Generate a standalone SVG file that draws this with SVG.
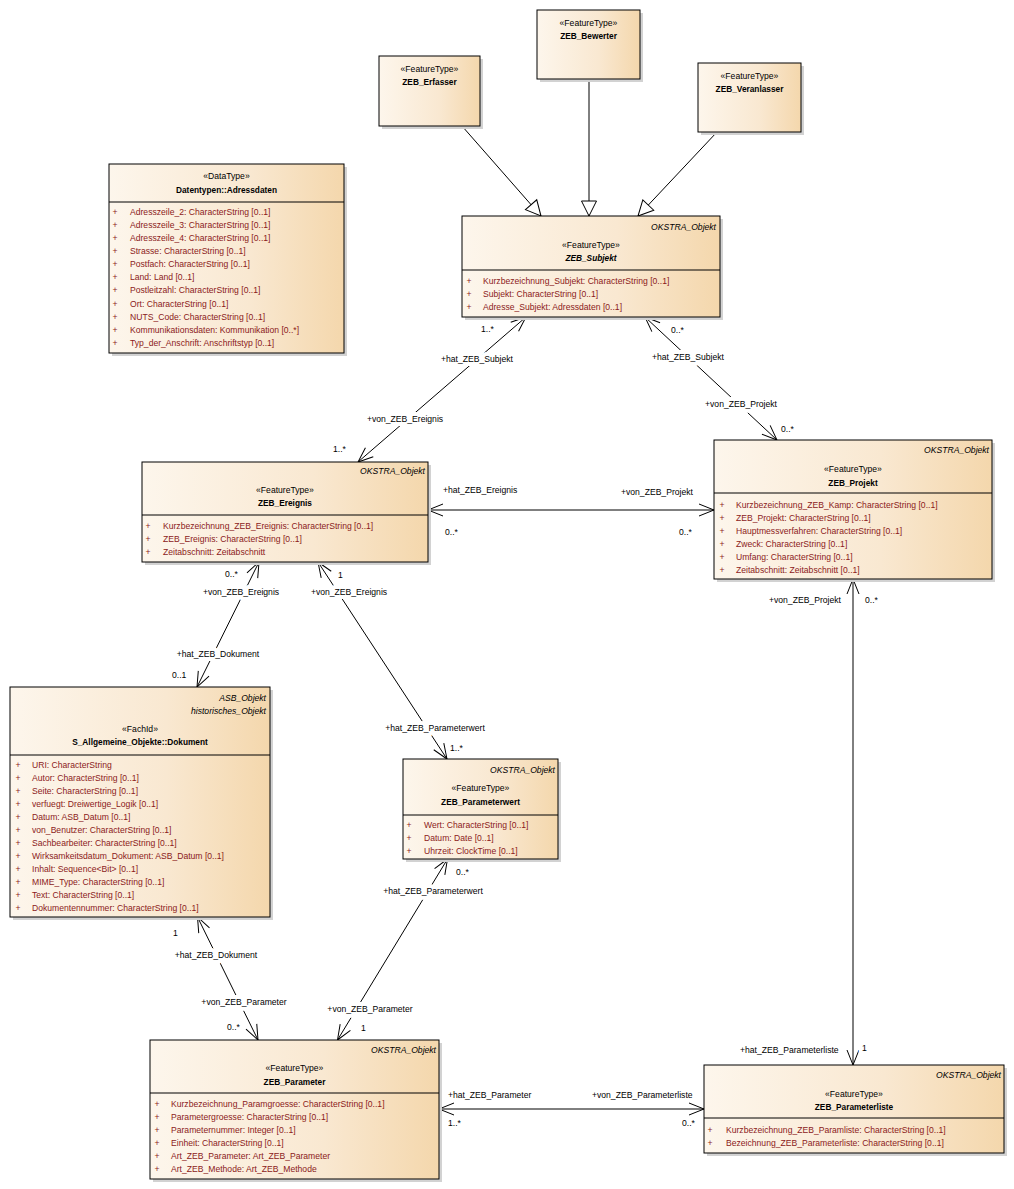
<svg xmlns="http://www.w3.org/2000/svg" width="1014" height="1189" viewBox="0 0 1014 1189">
<defs>
<linearGradient id="fill" x1="0" y1="0" x2="1" y2="0">
<stop offset="0" stop-color="#fdf6ec"/>
<stop offset="0.6" stop-color="#f9e8d1"/>
<stop offset="1" stop-color="#f4d7ac"/>
</linearGradient>
<marker id="open" viewBox="-17 -8 19 16" refX="0" refY="0" markerWidth="19" markerHeight="16" markerUnits="userSpaceOnUse" orient="auto-start-reverse">
<path d="M-15,-6 L0,0 L-15,6" fill="none" stroke="#000" stroke-width="1"/>
</marker>
<marker id="gen" viewBox="-17 -9 19 18" refX="0" refY="0" markerWidth="19" markerHeight="18" markerUnits="userSpaceOnUse" orient="auto">
<path d="M0,0 L-15,-7.5 L-15,7.5 Z" fill="#fff" stroke="#000" stroke-width="1"/>
</marker>
</defs>
<style>
.shadow{fill:#d2d2d2}
.box{fill:url(#fill);stroke:#000;stroke-width:1}
.sep{stroke:#000;stroke-width:1}
.t{font-family:"Liberation Sans",Arial,sans-serif;font-size:8.6px;fill:#000}
.a{fill:#8b1a1a}
.b{font-weight:bold;font-size:8.3px}
.i{font-style:italic}
.m{text-anchor:middle}
.e{text-anchor:end}
.con{stroke:#000;stroke-width:1;fill:none}
.assoc{marker-start:url(#open);marker-end:url(#open)}
.g{marker-end:url(#gen)}
.lbl{paint-order:stroke;stroke:#fff;stroke-width:8px;stroke-linejoin:round}
</style>
<rect x="0" y="0" width="1014" height="1189" fill="#fff"/>

<g id="connectors">
<line class="con g" x1="462" y1="126" x2="541" y2="216"/>
<line class="con g" x1="589" y1="79" x2="589" y2="216"/>
<line class="con g" x1="717" y1="132" x2="638" y2="216"/>
<line class="con assoc" x1="526" y1="317" x2="358" y2="462"/>
<line class="con assoc" x1="645" y1="317" x2="777" y2="440"/>
<line class="con assoc" x1="428" y1="510" x2="714" y2="510"/>
<line class="con assoc" x1="259" y1="562" x2="197" y2="687"/>
<line class="con assoc" x1="318" y1="562" x2="447" y2="759"/>
<line class="con assoc" x1="197.5" y1="917" x2="258" y2="1040"/>
<line class="con assoc" x1="447.5" y1="859" x2="337.5" y2="1040"/>
<line class="con assoc" x1="439" y1="1109" x2="704" y2="1109"/>
<line class="con assoc" x1="853" y1="579" x2="853" y2="1065"/>
<g class="t lbl">
<text x="481" y="332">1..*</text>
<text class="m" x="477" y="362">+hat_ZEB_Subjekt</text>
<text class="m" x="405" y="422">+von_ZEB_Ereignis</text>
<text x="333" y="452">1..*</text>
<text x="671" y="333">0..*</text>
<text class="m" x="688" y="360">+hat_ZEB_Subjekt</text>
<text class="m" x="741" y="407">+von_ZEB_Projekt</text>
<text x="781" y="432">0..*</text>
<text x="443" y="493">+hat_ZEB_Ereignis</text>
<text x="621" y="495">+von_ZEB_Projekt</text>
<text x="445" y="535">0..*</text>
<text x="679" y="535">0..*</text>
<text x="225" y="577">0..*</text>
<text class="m" x="241" y="595">+von_ZEB_Ereignis</text>
<text class="m" x="218" y="657">+hat_ZEB_Dokument</text>
<text x="172" y="678">0..1</text>
<text x="338" y="578">1</text>
<text class="m" x="349" y="595">+von_ZEB_Ereignis</text>
<text class="m" x="435" y="731">+hat_ZEB_Parameterwert</text>
<text x="450" y="751">1..*</text>
<text x="173" y="936">1</text>
<text class="m" x="216" y="958">+hat_ZEB_Dokument</text>
<text class="m" x="244" y="1005">+von_ZEB_Parameter</text>
<text x="227" y="1030">0..*</text>
<text x="456" y="875">0..*</text>
<text class="m" x="433" y="894">+hat_ZEB_Parameterwert</text>
<text class="m" x="370" y="1012">+von_ZEB_Parameter</text>
<text x="361" y="1031">1</text>
<text x="448" y="1098">+hat_ZEB_Parameter</text>
<text x="592" y="1098">+von_ZEB_Parameterliste</text>
<text x="448" y="1126">1..*</text>
<text x="682" y="1126">0..*</text>
<text x="769" y="603">+von_ZEB_Projekt</text>
<text x="865" y="603">0..*</text>
<text x="740" y="1053">+hat_ZEB_Parameterliste</text>
<text x="862" y="1051">1</text>
</g>
</g>

<g id="zeb_erfasser">
<rect class="shadow" x="382" y="59" width="101" height="70"/>
<rect class="box" x="379" y="56" width="101" height="70"/>
<text class="t m" x="429.5" y="72">«FeatureType»</text>
<text class="t b m" x="429.5" y="85">ZEB_Erfasser</text>
</g>

<g id="zeb_bewerter">
<rect class="shadow" x="540" y="13" width="103" height="69"/>
<rect class="box" x="537" y="10" width="103" height="69"/>
<text class="t m" x="588.5" y="26">«FeatureType»</text>
<text class="t b m" x="588.5" y="39">ZEB_Bewerter</text>
</g>

<g id="zeb_veranlasser">
<rect class="shadow" x="701" y="66" width="103" height="69"/>
<rect class="box" x="698" y="63" width="103" height="69"/>
<text class="t m" x="749.5" y="79">«FeatureType»</text>
<text class="t b m" x="749.5" y="92">ZEB_Veranlasser</text>
</g>

<g id="adressdaten">
<rect class="shadow" x="112" y="167" width="235" height="189"/>
<rect class="box" x="109" y="164" width="235" height="189"/>
<line class="sep" x1="109" y1="202" x2="344" y2="202"/>
<text class="t m" x="226.5" y="179">«DataType»</text>
<text class="t b m" x="226.5" y="193">Datentypen::Adressdaten</text>
<g class="t a">
<text class="m" x="115" y="215">+</text><text x="130" y="215">Adresszeile_2: CharacterString [0..1]</text>
<text class="m" x="115" y="228">+</text><text x="130" y="228">Adresszeile_3: CharacterString [0..1]</text>
<text class="m" x="115" y="241">+</text><text x="130" y="241">Adresszeile_4: CharacterString [0..1]</text>
<text class="m" x="115" y="254">+</text><text x="130" y="254">Strasse: CharacterString [0..1]</text>
<text class="m" x="115" y="267">+</text><text x="130" y="267">Postfach: CharacterString [0..1]</text>
<text class="m" x="115" y="280">+</text><text x="130" y="280">Land: Land [0..1]</text>
<text class="m" x="115" y="293">+</text><text x="130" y="293">Postleitzahl: CharacterString [0..1]</text>
<text class="m" x="115" y="307">+</text><text x="130" y="307">Ort: CharacterString [0..1]</text>
<text class="m" x="115" y="320">+</text><text x="130" y="320">NUTS_Code: CharacterString [0..1]</text>
<text class="m" x="115" y="333">+</text><text x="130" y="333">Kommunikationsdaten: Kommunikation [0..*]</text>
<text class="m" x="115" y="346">+</text><text x="130" y="346">Typ_der_Anschrift: Anschriftstyp [0..1]</text>
</g>
</g>

<g id="zeb_subjekt">
<rect class="shadow" x="465" y="219" width="258" height="101"/>
<rect class="box" x="462" y="216" width="258" height="101"/>
<line class="sep" x1="462" y1="270" x2="720" y2="270"/>
<text class="t i e" x="716" y="230">OKSTRA_Objekt</text>
<text class="t m" x="591" y="248">«FeatureType»</text>
<text class="t b i m" x="591" y="261">ZEB_Subjekt</text>
<g class="t a">
<text class="m" x="469" y="284">+</text><text x="483" y="284">Kurzbezeichnung_Subjekt: CharacterString [0..1]</text>
<text class="m" x="469" y="297">+</text><text x="483" y="297">Subjekt: CharacterString [0..1]</text>
<text class="m" x="469" y="310">+</text><text x="483" y="310">Adresse_Subjekt: Adressdaten [0..1]</text>
</g>
</g>

<g id="zeb_ereignis">
<rect class="shadow" x="145" y="465" width="286" height="100"/>
<rect class="box" x="142" y="462" width="286" height="100"/>
<line class="sep" x1="142" y1="515" x2="428" y2="515"/>
<text class="t i e" x="425" y="474">OKSTRA_Objekt</text>
<text class="t m" x="285" y="493">«FeatureType»</text>
<text class="t b m" x="285" y="506">ZEB_Ereignis</text>
<g class="t a">
<text class="m" x="148" y="529">+</text><text x="163" y="529">Kurzbezeichnung_ZEB_Ereignis: CharacterString [0..1]</text>
<text class="m" x="148" y="542">+</text><text x="163" y="542">ZEB_Ereignis: CharacterString [0..1]</text>
<text class="m" x="148" y="555">+</text><text x="163" y="555">Zeitabschnitt: Zeitabschnitt</text>
</g>
</g>

<g id="zeb_projekt">
<rect class="shadow" x="717" y="443" width="278" height="139"/>
<rect class="box" x="714" y="440" width="278" height="139"/>
<line class="sep" x1="714" y1="493" x2="992" y2="493"/>
<text class="t i e" x="989" y="453">OKSTRA_Objekt</text>
<text class="t m" x="853" y="472">«FeatureType»</text>
<text class="t b m" x="853" y="486">ZEB_Projekt</text>
<g class="t a">
<text class="m" x="722" y="508">+</text><text x="736" y="508">Kurzbezeichnung_ZEB_Kamp: CharacterString [0..1]</text>
<text class="m" x="722" y="521">+</text><text x="736" y="521">ZEB_Projekt: CharacterString [0..1]</text>
<text class="m" x="722" y="534">+</text><text x="736" y="534">Hauptmessverfahren: CharacterString [0..1]</text>
<text class="m" x="722" y="547">+</text><text x="736" y="547">Zweck: CharacterString [0..1]</text>
<text class="m" x="722" y="560">+</text><text x="736" y="560">Umfang: CharacterString [0..1]</text>
<text class="m" x="722" y="573">+</text><text x="736" y="573">Zeitabschnitt: Zeitabschnitt [0..1]</text>
</g>
</g>

<g id="dokument">
<rect class="shadow" x="13" y="690" width="260" height="230"/>
<rect class="box" x="10" y="687" width="260" height="230"/>
<line class="sep" x1="10" y1="755" x2="270" y2="755"/>
<text class="t i e" x="266" y="701">ASB_Objekt</text>
<text class="t i e" x="266" y="714">historisches_Objekt</text>
<text class="t m" x="140" y="732">«FachId»</text>
<text class="t b m" x="140" y="745">S_Allgemeine_Objekte::Dokument</text>
<g class="t a">
<text class="m" x="18" y="768">+</text><text x="32" y="768">URI: CharacterString</text>
<text class="m" x="18" y="781">+</text><text x="32" y="781">Autor: CharacterString [0..1]</text>
<text class="m" x="18" y="794">+</text><text x="32" y="794">Seite: CharacterString [0..1]</text>
<text class="m" x="18" y="807">+</text><text x="32" y="807">verfuegt: Dreiwertige_Logik [0..1]</text>
<text class="m" x="18" y="820">+</text><text x="32" y="820">Datum: ASB_Datum [0..1]</text>
<text class="m" x="18" y="833">+</text><text x="32" y="833">von_Benutzer: CharacterString [0..1]</text>
<text class="m" x="18" y="846">+</text><text x="32" y="846">Sachbearbeiter: CharacterString [0..1]</text>
<text class="m" x="18" y="859">+</text><text x="32" y="859">Wirksamkeitsdatum_Dokument: ASB_Datum [0..1]</text>
<text class="m" x="18" y="872">+</text><text x="32" y="872">Inhalt: Sequence&lt;Bit&gt; [0..1]</text>
<text class="m" x="18" y="885">+</text><text x="32" y="885">MIME_Type: CharacterString [0..1]</text>
<text class="m" x="18" y="898">+</text><text x="32" y="898">Text: CharacterString [0..1]</text>
<text class="m" x="18" y="911">+</text><text x="32" y="911">Dokumentennummer: CharacterString [0..1]</text>
</g>
</g>

<g id="zeb_parameterwert">
<rect class="shadow" x="406" y="762" width="155" height="100"/>
<rect class="box" x="403" y="759" width="155" height="100"/>
<line class="sep" x1="403" y1="815" x2="558" y2="815"/>
<text class="t i e" x="555" y="773">OKSTRA_Objekt</text>
<text class="t m" x="480.5" y="791">«FeatureType»</text>
<text class="t b m" x="480.5" y="805">ZEB_Parameterwert</text>
<g class="t a">
<text class="m" x="409" y="828">+</text><text x="424" y="828">Wert: CharacterString [0..1]</text>
<text class="m" x="409" y="841">+</text><text x="424" y="841">Datum: Date [0..1]</text>
<text class="m" x="409" y="854">+</text><text x="424" y="854">Uhrzeit: ClockTime [0..1]</text>
</g>
</g>

<g id="zeb_parameter">
<rect class="shadow" x="153" y="1043" width="289" height="139"/>
<rect class="box" x="150" y="1040" width="289" height="139"/>
<line class="sep" x1="150" y1="1093" x2="439" y2="1093"/>
<text class="t i e" x="436" y="1053">OKSTRA_Objekt</text>
<text class="t m" x="294.5" y="1071">«FeatureType»</text>
<text class="t b m" x="294.5" y="1085">ZEB_Parameter</text>
<g class="t a">
<text class="m" x="157" y="1107">+</text><text x="171" y="1107">Kurzbezeichnung_Paramgroesse: CharacterString [0..1]</text>
<text class="m" x="157" y="1120">+</text><text x="171" y="1120">Parametergroesse: CharacterString [0..1]</text>
<text class="m" x="157" y="1133">+</text><text x="171" y="1133">Parameternummer: Integer [0..1]</text>
<text class="m" x="157" y="1146">+</text><text x="171" y="1146">Einheit: CharacterString [0..1]</text>
<text class="m" x="157" y="1159">+</text><text x="171" y="1159">Art_ZEB_Parameter: Art_ZEB_Parameter</text>
<text class="m" x="157" y="1172">+</text><text x="171" y="1172">Art_ZEB_Methode: Art_ZEB_Methode</text>
</g>
</g>

<g id="zeb_parameterliste">
<rect class="shadow" x="707" y="1068" width="300" height="88"/>
<rect class="box" x="704" y="1065" width="300" height="88"/>
<line class="sep" x1="704" y1="1118" x2="1004" y2="1118"/>
<text class="t i e" x="1001" y="1078">OKSTRA_Objekt</text>
<text class="t m" x="854" y="1097">«FeatureType»</text>
<text class="t b m" x="854" y="1110">ZEB_Parameterliste</text>
<g class="t a">
<text class="m" x="710" y="1133">+</text><text x="726" y="1133">Kurzbezeichnung_ZEB_Paramliste: CharacterString [0..1]</text>
<text class="m" x="710" y="1146">+</text><text x="726" y="1146">Bezeichnung_ZEB_Parameterliste: CharacterString [0..1]</text>
</g>
</g>
</svg>
